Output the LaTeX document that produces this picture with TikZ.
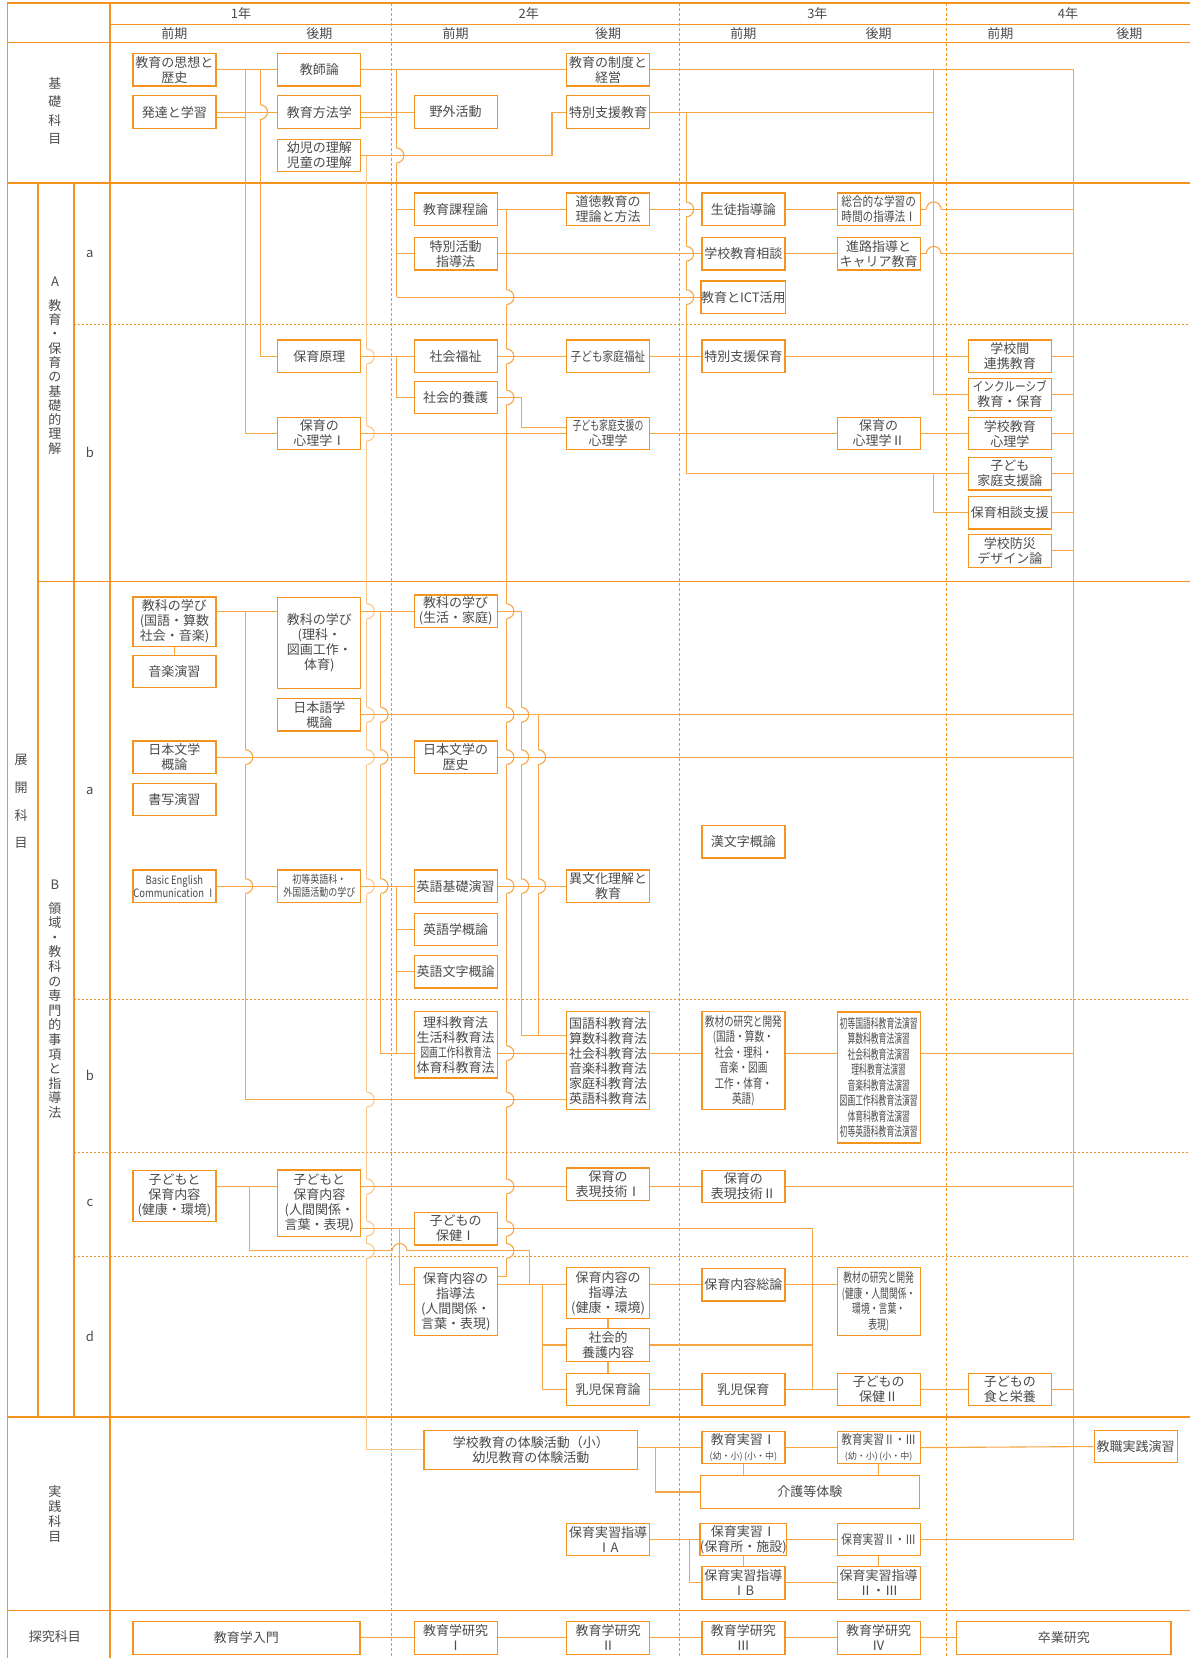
\documentclass[tikz,border=0pt]{standalone}
\usepackage{fontspec}
\setmainfont{Noto Sans CJK JP}
\newfontfamily\cnd[FakeStretch=0.82]{Noto Sans CJK JP}
\newfontfamily\mcnd[FakeStretch=0.74]{Noto Sans CJK JP}
\newfontfamily\ccnd[FakeStretch=0.68]{Noto Sans CJK JP}
\newfontfamily\cccnd[FakeStretch=0.6]{Noto Sans CJK JP}
\usetikzlibrary{calc}
\definecolor{orng}{RGB}{246,146,30}
\definecolor{lorng}{RGB}{248,165,70}
\definecolor{pale}{RGB}{251,198,140}
\definecolor{txt}{RGB}{75,75,75}
\tikzstyle{box}=[draw=orng,line width=1.3pt,fill=white,text=txt,align=center,inner sep=0pt,minimum width=83pt,minimum height=32.5pt,font=\fontsize{13}{15}\selectfont]
\tikzstyle{frame}=[draw=orng,line width=1.4pt]
\tikzstyle{yearline}=[draw=orng,line width=1pt,dash pattern=on 3pt off 2pt]
\tikzstyle{subline}=[draw=orng,line width=1pt,dash pattern=on 2pt off 2pt]
\tikzstyle{link}=[draw=lorng,line width=1.1pt]
\tikzstyle{palelink}=[draw=pale,line width=1.1pt]
\tikzstyle{lbl}=[text=txt,align=center,font=\fontsize{13}{15}\selectfont]

\begin{document}
\begin{tikzpicture}[x=1.0574pt,y=-1.0574pt]
\useasboundingbox (0,0) rectangle (1125.4,1568);

% Table frame
\draw[frame] (7,3) -- (1125.4,3);
\draw[frame] (104,23) -- (1125.4,23);
\draw[frame] (7,40) -- (1125.4,40);
\draw[frame] (7,173) -- (1125.4,173);
\draw[frame] (36,550) -- (1125.4,550);
\draw[frame] (7,1340) -- (1125.4,1340);
\draw[frame] (7,1523) -- (1125.4,1523);
\draw[frame] (7,3) -- (7,1568);
\draw[frame] (104,3) -- (104,1568);
\draw[frame] (36,173) -- (36,1340);
\draw[frame] (70,173) -- (70,1340);
\foreach \y in {307,945,1090,1188}
    \draw[subline] (70,\y) -- (1125.4,\y);
\foreach \x in {370,643,895}
    \draw[yearline] (\x,3) -- (\x,1568);

% Label
\foreach \x/\n in {228/1, 500/2, 773/3, 1010/4}
    \node[lbl] (year\n) at (\x,13) {{\n}年};
\foreach \x/\t/\n in {165/前期/s1, 302/後期/s2, 431/前期/s3, 575/後期/s4, 703/前期/s5, 831/後期/s6, 946/前期/s7, 1068/後期/s8}
    \node[lbl] (\n) at (\x,32) {\t};
\node[lbl,font=\fontsize{13}{18.3}\selectfont] (kiso) at (52,105) {基\\礎\\科\\目};
\node[lbl,font=\fontsize{13}{27.8}\selectfont] (tenkai) at (20,758) {展\\開\\科\\目};
\node[lbl,font=\fontsize{13}{14.3}\selectfont] (secA) at (52,346) {A\\[9pt]教\\育\\・\\保\\育\\の\\基\\礎\\的\\理\\解};
\node[lbl,font=\fontsize{13}{14.6}\selectfont] (secB) at (52,945) {B\\[9pt]領\\域\\・\\教\\科\\の\\専\\門\\的\\事\\項\\と\\指\\導\\法};
\node[lbl,font=\fontsize{13}{15}\selectfont] (jissen) at (52,1432) {実\\践\\科\\目};
\node[lbl] (tankyu) at (52,1548) {探究科目};
\foreach \y/\t/\n in {240/a/Aa, 428/b/Ab, 748/a/Ba, 1017/b/Bb, 1138/c/Bc, 1264/d/Bd}
    \node[lbl] (sub\n) at (85,\y) {\t};

% Subjects
\foreach \pos/\name/\txt in {{(165,66)/ph/{教育の思想と\\歴史}}, {(302,66)/kyoshi/{教師論}}, {(575,66)/seido/{教育の制度と\\経営}},
    {(165,106)/hattatsu/{発達と学習}}, {(302,106)/hoho/{教育方法学}}, {(431,106)/yagai/{野外活動}}, {(575,106)/tokushi/{特別支援教育}},
    {(302,147)/rikai/{幼児の理解\\児童の理解}},
    {(431,198)/katei/{教育課程論}}, {(575,198)/dotoku/{道徳教育の\\理論と方法}}, {(703,198)/seito/{生徒指導論}},
    {(831,198)/sogo/{{\cnd 総合的な学習の}\\{\cnd 時間の指導法Ⅰ}}},
    {(431,240)/tokkatsu/{特別活動\\指導法}}, {(703,240)/sodan/{学校教育相談}}, {(831,240)/shinro/{進路指導と\\キャリア教育}},
    {(703,281)/ict/{教育とICT活用}},
    {(302,337)/hogen/{保育原理}}, {(431,337)/fukushi/{社会福祉}}, {(575,337)/kfuku/{{\cnd 子ども家庭福祉}}},
    {(703,337)/tshoiku/{特別支援保育}}, {(955,337)/renkei/{学校間\\連携教育}},
    {(431,376)/yogo/{社会的養護}}, {(955,373)/inclu/{{\cnd インクルーシブ}\\教育・保育}},
    {(302,410)/shinri1/{保育の\\心理学Ⅰ}}, {(575,410)/kshien/{{\ccnd 子ども家庭支援の}\\心理学}},
    {(831,410)/shinri2/{保育の\\心理学Ⅱ}}, {(955,410)/gshinri/{学校教育\\心理学}},
    {(955,448)/kshienron/{子ども\\家庭支援論}}, {(955,485)/hsodan/{保育相談支援}}, {(955,521)/bosai/{学校防災\\デザイン論}},
    {(431,578)/kyoka3/{教科の学び\\(生活・家庭)}}, {(165,635)/ongaku/{音楽演習}}, {(302,676)/nihongo/{日本語学\\概論}},
    {(165,716)/nbungaku/{日本文学\\概論}}, {(431,716)/nbunrek/{日本文学の\\歴史}}, {(165,756)/shosha/{書写演習}},
    {(703,796)/kanbun/{漢文字概論}}, {(431,838)/eikiso/{英語基礎演習}}, {(575,838)/ibunka/{異文化理解と\\教育}},
    {(431,879)/eigogaku/{英語学概論}}, {(431,919)/eimoji/{英語文字概論}},
    {(575,1120)/hyogen1/{保育の\\表現技術Ⅰ}}, {(703,1122)/hyogen2/{保育の\\表現技術Ⅱ}}, {(431,1162)/hoken1/{子どもの\\保健Ⅰ}},
    {(703,1215)/soron/{保育内容総論}}, {(575,1272)/yogonai/{社会的\\養護内容}}, {(575,1314)/nyujiron/{乳児保育論}},
    {(703,1314)/nyuji/{乳児保育}}, {(831,1314)/hoken2/{子どもの\\保健Ⅱ}}, {(955,1314)/shoku/{子どもの\\食と栄養}},
    {(575,1456)/shidoA/{保育実習指導\\ⅠA}}, {(703,1456)/hjisshu1/{保育実習Ⅰ\\(保育所・施設)}},
    {(831,1456)/hjisshu2/{{\cnd 保育実習Ⅱ・Ⅲ}}}, {(703,1497)/shidoB/{保育実習指導\\ⅠB}}, {(831,1497)/shido23/{保育実習指導\\Ⅱ・Ⅲ}},
    {(431,1549)/ken1/{教育学研究\\Ⅰ}}, {(575,1549)/ken2/{教育学研究\\Ⅱ}}, {(703,1549)/ken3/{教育学研究\\Ⅲ}}, {(831,1549)/ken4/{教育学研究\\Ⅳ}}}
    \node[box] (\name) at \pos {\txt};

\node[box,minimum height=49.7pt] (kyoka1) at (165,588) {教科の学び\\(国語・算数\\社会・音楽)};
\node[box,minimum height=91pt] (kyoka2) at (302,608) {教科の学び\\(理科・\\図画工作・\\体育)};
\node[box,font=\fontsize{11.5}{13}\selectfont\cnd] (basic) at (165,838) {Basic English\\Communication Ⅰ};
\node[box,font=\fontsize{11}{13}\selectfont\cnd] (shoto) at (302,838) {初等英語科・\\外国語活動の学び};
\node[box,minimum height=66.6pt] (rika) at (431,988) {理科教育法\\生活科教育法\\{\ccnd 図画工作科教育法}\\体育科教育法};
\node[box,minimum height=98pt] (kokugo) at (575,1003) {国語科教育法\\算数科教育法\\社会科教育法\\音楽科教育法\\家庭科教育法\\英語科教育法};
\node[box,minimum height=98pt,font=\fontsize{13}{15.5}\selectfont\mcnd] (kyozai1) at (703,1003) {教材の研究と開発\\(国語・算数・\\社会・理科・\\音楽・図画\\工作・体育・\\英語)};
\node[box,minimum height=131pt,font=\fontsize{13}{15.5}\selectfont\cccnd] (enshu) at (831,1019) {初等国語科教育法演習\\算数科教育法演習\\社会科教育法演習\\理科教育法演習\\音楽科教育法演習\\図画工作科教育法演習\\体育科教育法演習\\初等英語科教育法演習};
\node[box,minimum height=50.8pt] (kodomo1) at (165,1131) {子どもと\\保育内容\\(健康・環境)};
\node[box,minimum height=66.6pt] (kodomo2) at (302,1138) {子どもと\\保育内容\\(人間関係・\\言葉・表現)};
\node[box,minimum height=67.7pt] (shido1) at (431,1231) {保育内容の\\指導法\\(人間関係・\\言葉・表現)};
\node[box,minimum height=50.8pt] (shido2) at (575,1223) {保育内容の\\指導法\\(健康・環境)};
\node[box,minimum height=67.7pt,font=\fontsize{13}{15.5}\selectfont\ccnd] (kyozai2) at (831,1231) {教材の研究と開発\\(健康・人間関係・\\環境・言葉・\\表現)};
\node[box,minimum width=213.6pt,minimum height=39pt] (taiken) at (502,1371) {学校教育の体験活動（小）\\幼児教育の体験活動};
\node[box] (kyoiku1) at (703,1369) {教育実習Ⅰ\\{\fontsize{9}{10}\selectfont (幼・小)\,(小・中)}};
\node[box] (kyoiku2) at (831,1369) {{\cnd 教育実習Ⅱ・Ⅲ}\\{\fontsize{9}{10}\selectfont (幼・小)\,(小・中)}};
\node[box] (kyoshoku) at (1074,1368) {教職実践演習};
\node[box,minimum width=219pt] (kaigo) at (766,1411) {介護等体験};
\node[box,minimum width=227pt] (nyumon) at (233,1549) {教育学入門};
\node[box,minimum width=214.7pt] (sotsu) at (1006,1549) {卒業研究};

% bus lines
\foreach \n/\x in {A/232, B/246, C/347, D/360, E/375, F/479, G/493, H/509, I/522, J/649, K/883, L/1015, N/236, O/378, P/501, Q/513, R/768, S/620, T/652}
    \coordinate (x\n) at (\x,0);
\coordinate (ykk) at (0,979);
\coordinate (yrk) at (0,996);
\coordinate (yhy) at (0,1122);
\coordinate (yjp) at (0,1183);
\coordinate (yso) at (0,1215);

% verticals that jump
\draw[link] (ph.east -| xB) |- (hogen.west);
\draw[palelink] (rikai.east -| xC) |- (taiken.west);
\draw[link] (xD |- kyoka3.west) |- (rika.west |- yrk);
\draw[link] (kyoshi.east -| xE) -- (xE |- ict.west);
\draw[link] (katei.east -| xF) |- ($(shido1.north east)+(0,9)$);
\draw[link] (xG |- kyoka3.west) |- (kokugo.west |- ykk);
\draw[link] (nihongo.east -| xH) -- (xH |- ykk);
\draw[link] (tokushi.east -| xJ) |- (kshienron.west);
\draw[link] (xA |- kyoka3.west) -- ($(kokugo.west -| xA)+(0,37)$);

% jumps
\def\jr{7}
\foreach \x/\y in {347/337, 347/410, 347/578, 347/676, 347/716, 347/838, 347/1040, 347/1122, 347/1162, 347/1183} {
    \fill[white] (\x-2,\y-\jr) rectangle (\x+2,\y+\jr);
    \draw[palelink] (\x,\y-\jr) arc[start angle=-90,end angle=90,radius=\jr];
}
\foreach \x/\y in {246/106, 375/147, 360/676, 360/716, 360/838, 232/716, 232/838,
    479/281, 479/337, 479/376, 479/578, 479/676, 479/716, 479/838, 479/996, 479/1040, 479/1122, 479/1162, 479/1183,
    493/676, 493/716, 493/838, 509/716, 509/838, 649/198, 649/240, 649/281} {
    \fill[white] (\x-2,\y-\jr) rectangle (\x+2,\y+\jr);
    \draw[link] (\x,\y-\jr) arc[start angle=-90,end angle=90,radius=\jr];
}

% basic subjects
\draw[link] (ph.east) -- (kyoshi.west);
\draw[link] (ph.east -| xA) |- (shinri1.west);
\draw[link] (hattatsu.east) -- (hoho.west);
\draw[link] ($(hattatsu.east)+(0,5)$) -- ($(hattatsu.east -| xA)+(0,5)$);
\draw[link] (kyoshi.east) -- (seido.west);
\draw[link] (hoho.east) -- (yagai.west);
\draw[link] ($(hoho.east)+(0,5)$) -- ($(hoho.east -| xE)+(0,5)$);
\draw[link] (rikai.east) -| (xI |- tokushi.west) -- (tokushi.west);
\draw[link] (seido.east) -| (xL |- hjisshu2.east) -- (hjisshu2.east);
\draw[link] (seido.east -| xK) |- (inclu.west);
\draw[link] (tokushi.east) -- (tokushi.east -| xK);
\draw[link] (kshienron.west -| xK) |- (hsodan.west);

% A a
\draw[link] (xE |- katei.west) -- (katei.west);
\draw[link] (xE |- tokkatsu.west) -- (tokkatsu.west);
\draw[link] (xE |- ict.west) -- (ict.west);
\foreach \source/\dest in {katei/dotoku, dotoku/seito, seito/sogo, tokkatsu/sodan, sodan/shinro}
    \draw[link] (\source.east) -- (\dest.west);
\draw[link] (sogo.east) -- (sogo.east -| xL);
\draw[link] (shinro.east) -- (shinro.east -| xL);

% A b
\foreach \source/\dest in {hogen/fukushi, fukushi/kfuku, kfuku/tshoiku, tshoiku/renkei, shinri1/kshien, kshien/shinri2, shinri2/gshinri}
    \draw[link] (\source.east) -- (\dest.west);
\draw[link] (hogen.east -| xE) |- (yogo.west);
\draw[link] (yogo.east) -| ($(kshien.west -| xG)+(0,-6)$) -- ($(kshien.west)+(0,-6)$);
\foreach \source in {renkei, inclu, gshinri, kshienron, hsodan, bosai}
    \draw[link] (\source.east) -- (\source.east -| xL);

% B a
\draw[link] (kyoka1.east |- kyoka3.west) -- (kyoka2.west |- kyoka3.west);
\draw[link] (kyoka2.east |- kyoka3.west) -- (kyoka3.west);
\draw[link] (kyoka3.east) -- (kyoka3.east -| xG);
\draw[link] (kyoka1.south) -- (ongaku.north);
\draw[link] (nihongo.east) -- (nihongo.east -| xL);
\draw[link] (nbungaku.east) -- (nbunrek.west);
\draw[link] (nbunrek.east) -- (nbunrek.east -| xL);
\foreach \source/\dest in {basic/shoto, shoto/eikiso, eikiso/ibunka}
    \draw[link] (\source.east) -- (\dest.west);
\draw[link] (eikiso.west -| xE) -- (xE |- yrk);
\draw[link] (xE |- eigogaku.west) -- (eigogaku.west);
\draw[link] (xE |- eimoji.west) -- (eimoji.west);

% B b
\draw[link] ($(kokugo.west -| xA)+(0,37)$) -- ($(kokugo.west)+(0,37)$);
\draw[link] (rika.east |- yrk) -- (kokugo.west |- yrk);
\draw[link] (kokugo.east |- yrk) -- (kyozai1.west |- yrk);
\draw[link] (kyozai1.east |- yrk) -- (enshu.west |- yrk);
\draw[link] (enshu.east |- yrk) -- (xL |- yrk);

% B c
\draw[link] (kodomo1.east |- yhy) -- (kodomo2.west |- yhy);
\draw[link] (kodomo2.east |- yhy) -- (hyogen1.west |- yhy);
\draw[link] (hyogen1.east |- yhy) -- (hyogen2.west |- yhy);
\draw[link] (hyogen2.east |- yhy) -- (xL |- yhy);
\draw[link] (xN |- yhy) |- (xP |- yjp) |- (shido2.west |- yso);
\draw[link] (kodomo2.east |- hoken1.west) -- (hoken1.west);
\draw[link] (xO |- hoken1.west) |- (shido1.west |- yso);
\draw[link] (hoken1.east) -| (xR |- hoken2.west) -- (hoken2.west);

% B d
\draw[link] (shido1.east |- yso) -- (shido2.west |- yso);
\draw[link] (shido2.east |- yso) -- (soron.west);
\draw[link] (soron.east) -- (kyozai2.west |- yso);
\draw[link] (xQ |- yso) |- (nyujiron.west);
\draw[link] (xQ |- yogonai.west) -- (yogonai.west);
\draw[link] (shido2.south) -- (yogonai.north);
\draw[link] (yogonai.south) -- (nyujiron.north);
\draw[link] (yogonai.east) -- (yogonai.east -| xR);
\foreach \source/\dest in {nyujiron/nyuji, nyuji/hoken2, hoken2/shoku}
    \draw[link] (\source.east) -- (\dest.west);
\draw[link] (shoku.east) -- (shoku.east -| xL);

% practice
\draw[link] (taiken.east |- kyoiku1.west) -- (kyoiku1.west);
\draw[link] (xS |- kyoiku1.west) |- (kaigo.west);
\draw[link] (kyoiku1.east) -- (kyoiku2.west);
\draw[link] (kyoiku2.east) -- (kyoshoku.west);
\draw[link] (kyoiku1.south) -- (kyoiku1.south |- kaigo.north);
\draw[link] (kyoiku2.south) -- (kyoiku2.south |- kaigo.north);
\draw[link] (shidoA.east) -- (hjisshu1.west);
\draw[link] (hjisshu1.east) -- (hjisshu2.west);
\draw[link] (xT |- hjisshu1.west) |- (shidoB.west);
\draw[link] (hjisshu1.south) -- (shidoB.north);
\draw[link] (hjisshu2.south) -- (shido23.north);
\draw[link] (shidoB.east) -- (shido23.west);

% research
\foreach \source/\dest in {nyumon/ken1, ken1/ken2, ken2/ken3, ken3/ken4, ken4/sotsu}
    \draw[link] (\source.east) -- (\dest.west);

% horizontal jumps
\foreach \x/\y in {883/198, 883/240, 378/1183} {
    \fill[white] (\x-\jr,\y-2) rectangle (\x+\jr,\y+2);
    \draw[link] (\x-\jr,\y) arc[start angle=180,end angle=360,radius=\jr];
    \draw[link] (\x,\y-3) -- (\x,\y+3);
}

\end{tikzpicture}
\end{document}
